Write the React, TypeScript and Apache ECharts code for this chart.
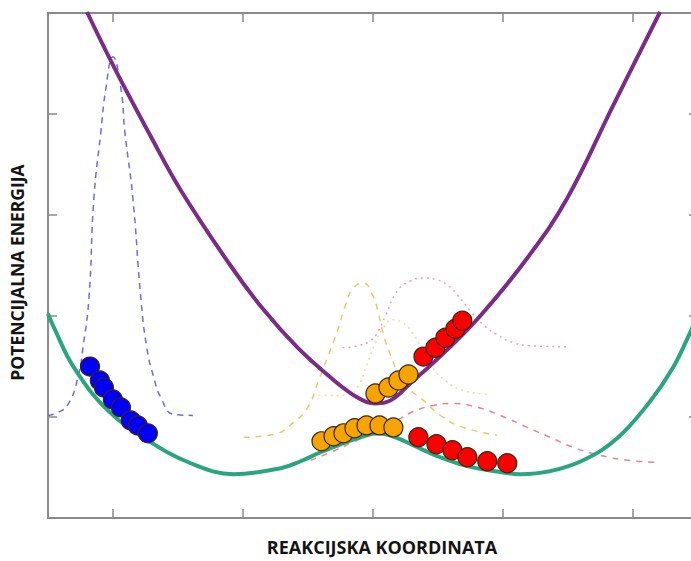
import React, { useEffect, useRef } from "react";
import * as echarts from "echarts";

// Reaction coordinate ticks (no labels shown)
const xTicks = [0, 1, 2, 3, 4];

// Ground-state potential (double well)
const groundState: number[][] = [
  [-0.5, 2.022], [-0.454, 1.884], [-0.3, 1.489], [-0.039, 1.065], [0.268, 0.769],
  [0.598, 0.542], [0.929, 0.434], [1.29, 0.493], [1.443, 0.562], [1.597, 0.651],
  [1.75, 0.73], [1.904, 0.799], [2.042, 0.838], [2.173, 0.799], [2.326, 0.71],
  [2.48, 0.621], [2.726, 0.513], [2.979, 0.454], [3.133, 0.434], [3.363, 0.464],
  [3.617, 0.572], [3.878, 0.789], [4.131, 1.154], [4.308, 1.489], [4.446, 1.854],
  [4.5, 2.002],
];

// Excited-state potential
const excitedState: number[][] = [
  [-0.2, 5.01], [0.007, 4.467], [0.291, 3.777], [0.521, 3.245], [0.906, 2.495],
  [1.159, 2.061], [1.42, 1.686], [1.674, 1.391], [1.881, 1.193], [2.019, 1.134],
  [2.096, 1.144], [2.311, 1.361], [2.572, 1.667], [2.826, 2.002], [3.187, 2.574],
  [3.494, 3.166], [3.847, 4.083], [4.208, 5.01],
];

// Distributions
const blueDist: number[][] = [
  [-0.5, 1.016], [-0.423, 1.045], [-0.346, 1.124], [-0.27, 1.391], [-0.231, 1.686],
  [-0.185, 2.18], [-0.147, 3.166], [-0.093, 3.826], [-0.055, 4.251], [-0.001, 4.566],
  [0.061, 4.251], [0.091, 3.826], [0.153, 3.166], [0.214, 2.18], [0.26, 1.686],
  [0.314, 1.391], [0.368, 1.193], [0.468, 1.026], [0.614, 1.016],
];
const orangeDashed: number[][] = [
  [1.005, 0.799], [1.236, 0.828], [1.389, 0.947], [1.497, 1.095], [1.581, 1.361],
  [1.658, 1.617], [1.727, 1.854], [1.789, 2.11], [1.85, 2.278], [1.927, 2.327],
  [1.996, 2.209], [2.035, 2.061], [2.081, 1.815], [2.134, 1.617], [2.234, 1.341],
  [2.388, 1.164], [2.541, 0.996], [2.695, 0.897], [2.956, 0.819],
];
const orangeDotted: number[][] = [
  [1.535, 1.213], [1.674, 1.213], [1.812, 1.223], [1.889, 1.312], [1.95, 1.509],
  [2.019, 1.736], [2.081, 1.884], [2.15, 1.963], [2.227, 1.933], [2.303, 1.834],
  [2.38, 1.667], [2.457, 1.489], [2.557, 1.361], [2.672, 1.272], [2.879, 1.223],
];
const pinkDotted: number[][] = [
  [1.766, 1.686], [1.881, 1.706], [1.981, 1.755], [2.042, 1.854], [2.096, 2.002],
  [2.188, 2.249], [2.288, 2.347], [2.388, 2.377], [2.495, 2.357], [2.572, 2.308],
  [2.649, 2.209], [2.749, 2.051], [2.849, 1.913], [2.956, 1.815], [3.079, 1.736],
  [3.21, 1.706], [3.494, 1.696],
];
const redDashed: number[][] = [
  [1.52, 0.572], [1.674, 0.651], [1.827, 0.74], [1.981, 0.838], [2.096, 0.917],
  [2.211, 0.986], [2.311, 1.055], [2.465, 1.114], [2.618, 1.134], [2.803, 1.095],
  [2.979, 1.016], [3.187, 0.897], [3.363, 0.799], [3.54, 0.7], [3.747, 0.621],
  [3.955, 0.572], [4.193, 0.552],
];

// Wave-packet balls
const blueBalls: number[][] = [
  [-0.177, 1.499], [-0.101, 1.361], [-0.07, 1.292], [-0.001, 1.174],
  [0.061, 1.095], [0.137, 0.966], [0.191, 0.917], [0.268, 0.838],
];
const orangeLowerBalls: number[][] = [
  [1.604, 0.759], [1.697, 0.809], [1.773, 0.838], [1.858, 0.888],
  [1.95, 0.917], [2.05, 0.917], [2.157, 0.897],
];
const orangeUpperBalls: number[][] = [
  [2.019, 1.233], [2.119, 1.292], [2.196, 1.361], [2.273, 1.42],
];
const redUpperBalls: number[][] = [
  [2.388, 1.598], [2.48, 1.686], [2.557, 1.785], [2.634, 1.874], [2.687, 1.953],
];
const redLowerBalls: number[][] = [
  [2.349, 0.799], [2.488, 0.73], [2.611, 0.671], [2.726, 0.602], [2.879, 0.562], [3.033, 0.542],
];

const AXIS_COLOR = "#8a8a8a";

export default function App() {
  const ref = useRef<HTMLDivElement>(null);
  useEffect(() => {
    if (!ref.current) return;
    const chart = echarts.init(ref.current, undefined, { renderer: "svg" });
    const axisCommon = {
      axisLine: { show: true, onZero: false, lineStyle: { color: AXIS_COLOR, width: 2 } },
      axisLabel: { show: false },
      splitLine: { show: false },
    };
    const tick = (extra: any = {}) => ({
      show: true, inside: true, length: 9,
      lineStyle: { color: AXIS_COLOR, width: 1.5 },
      ...extra,
    });
    const titleBase = {
      fontFamily: "Open Sans",
      fontWeight: "bold" as const,
      color: "#141414",
    };
    const line = (data: number[][], color: string, width: number, type: any, z: number, smooth = 0.5) => ({
      type: "line",
      data,
      smooth,
      symbol: "none",
      z,
      lineStyle: { color, width, type },
      silent: true,
    });
    const balls = (data: number[][], color: string) => ({
      type: "scatter",
      data,
      symbol: "circle",
      symbolSize: 19,
      z: 10,
      itemStyle: { color, borderColor: "#3a2410", borderWidth: 1.2, opacity: 1 },
      silent: true,
    });
    chart.setOption({
      animation: false,
      backgroundColor: "#ffffff",
      grid: { left: 47, right: 2, top: 13, bottom: 38, containLabel: false },
      xAxis: [
        {
          type: "value", min: -0.5, max: 4.5, position: "bottom",
          ...axisCommon,
          axisTick: tick({ customValues: xTicks }),
          name: "REAKCIJSKA KOORDINATA", nameLocation: "middle", nameGap: 20,
          nameTextStyle: { ...titleBase, fontSize: 18, padding: [0, 0, 0, 18] },
        },
        {
          type: "value", min: -0.5, max: 4.5, position: "top",
          ...axisCommon,
          axisTick: tick({ customValues: xTicks }),
        },
      ],
      yAxis: [
        {
          type: "value", min: 0, max: 5, interval: 1, position: "left",
          ...axisCommon,
          axisTick: tick(),
          name: "POTENCIJALNA ENERGIJA", nameLocation: "middle", nameGap: 22,
          nameTextStyle: { ...titleBase, fontSize: 17.5, padding: [0, 14, 0, 0] },
        },
        {
          type: "value", min: 0, max: 5, interval: 1, position: "right",
          ...axisCommon,
          axisTick: tick(),
        },
      ],
      series: [
        line(blueDist, "#6b6bf5", 1.5, [6, 5], 2),
        line(orangeDashed, "#f2c46a", 1.5, [6, 6], 2),
        line(orangeDotted, "#f6d9a2", 1.5, [2, 4], 2),
        line(pinkDotted, "#e6a0c4", 1.5, [2, 4], 2),
        line(redDashed, "#ec8190", 1.5, [6, 6], 2),
        line(groundState, "#2ba57f", 4, "solid", 5, 0.4),
        line(excitedState, "#7a2c86", 4, "solid", 5, 0.4),
        balls(blueBalls, "#0000fa"),
        balls(orangeLowerBalls, "#f5a400"),
        balls(orangeUpperBalls, "#f5a400"),
        balls(redUpperBalls, "#fa0000"),
        balls(redLowerBalls, "#fa0000"),
      ],
    });
    return () => chart.dispose();
  }, []);
  return (
    <div style={{ position: "fixed", left: 0, top: 0, width: 691, height: 561, overflow: "hidden", background: "#fff" }}>
      <div ref={ref} style={{ width: 700, height: 561 }} />
    </div>
  );
}
